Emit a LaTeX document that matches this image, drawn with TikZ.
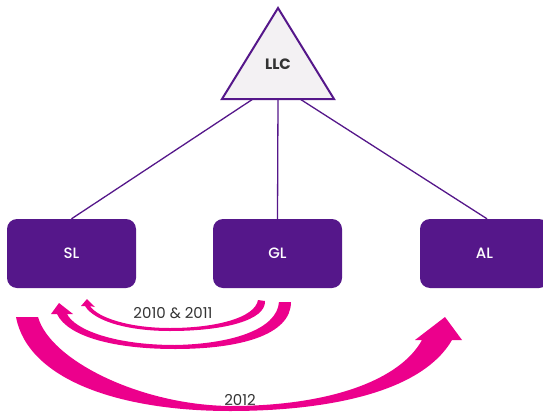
\documentclass[tikz,border=0pt]{standalone}
\usepackage{fontspec}
\setmainfont{Poppins}
\newfontfamily\medfont{Poppins Medium}
\usetikzlibrary{calc}
\definecolor{llcpurple}{RGB}{85,23,138}
\definecolor{llcpink}{RGB}{236,0,140}
\definecolor{llcgray}{RGB}{243,241,243}
\definecolor{llctext}{RGB}{51,51,51}
\begin{document}
\begin{tikzpicture}[x=1pt, y=-1pt,
    unit/.style={fill=llcpurple, rounded corners=10pt, minimum width=129pt, minimum height=69pt, text=white, font=\medfont\fontsize{15}{15}\selectfont},
    link/.style={draw=llcpurple, line width=1.3pt},
    year/.style={text=llctext, font=\fontsize{15}{15}\selectfont}]
        \useasboundingbox (0,0) rectangle (543,412);
        \coordinate (apex) at (278,8);
        \coordinate (bl)   at (222,99);
        \coordinate (br)   at (334,99);
        \filldraw[fill=llcgray, draw=llcpurple, line width=2pt, line join=miter] (apex) -- (bl) -- (br) -- cycle;
        \node[text=llctext, font=\fontsize{15}{15}\selectfont\bfseries] (llc) at (278,64) {LLC};
        \foreach \nm/\txt/\x in {sl/SL/71.5, gl/GL/277.5, al/AL/484.5} {
            \node[unit] (\nm) at (\x,253.5) {\txt};
        }
        \draw[link] ($(bl)!0.277!(br)$) -- (sl.north);
        \draw[link] ($(bl)!0.5!(br)$)   -- (gl.north);
        \draw[link] ($(bl)!0.696!(br)$) -- ([xshift=2.5pt]al.north);
        \fill[llcpink] (258,300) .. controls (255,318) and (215,328) .. (170,328)
            .. controls (130,328) and (98,318) .. (90,306) -- (95,307) -- (87,299) -- (81,306) -- (85,306)
            .. controls (95,322) and (130,331) .. (170,331) .. controls (225,331) and (266,320) .. (265,301) -- cycle;
        \fill[llcpink] (279,302) .. controls (277,330) and (230,344) .. (175,345)
            .. controls (115,345) and (75,330) .. (67,314) -- (73,314) -- (59,303) -- (51,314) -- (57,314)
            .. controls (68,337) and (115,349) .. (175,349) .. controls (240,349) and (291,335) .. (291,302) -- cycle;
        \fill[llcpink] (38,317) .. controls (50,360) and (140,405) .. (230,406)
            .. controls (330,406) and (400,380) .. (422,340) -- (415,340) -- (445,317) -- (462,340) -- (452,340)
            .. controls (420,395) and (320,411) .. (230,411) .. controls (120,411) and (28,380) .. (16,317) -- cycle;
        \node[year] (early) at (173,313) {2010 \& 2011};
        \node[year] (late)  at (240,400) {2012};
    \end{tikzpicture}
\end{document}
